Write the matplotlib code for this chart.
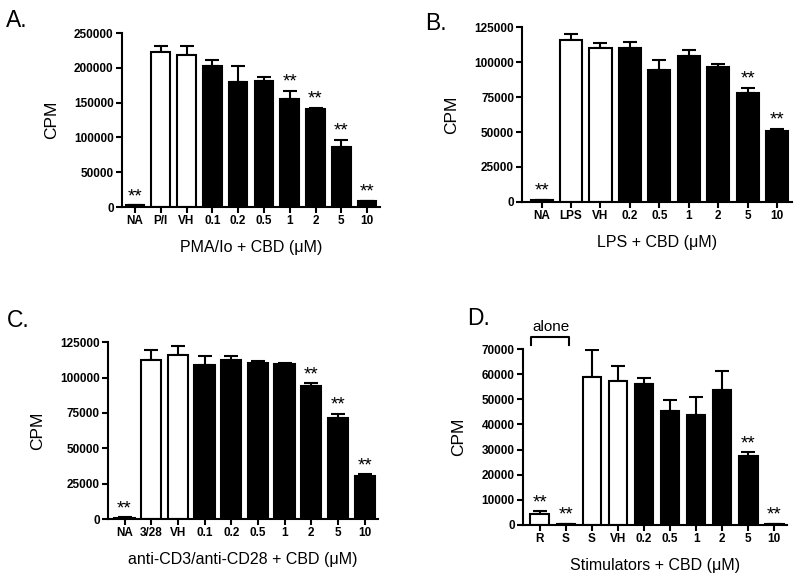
import numpy as np
import matplotlib.pyplot as plt

plt.rcParams['font.family'] = ['Liberation Sans', 'DejaVu Sans']

# panel A: PMA/Io
a_labels = ["NA", "P/I", "VH", "0.1", "0.2", "0.5", "1", "2", "5", "10"]
a_mean = [2400, 223500, 218700, 203000, 179000, 181000, 155800, 141000, 86500, 8000]
a_err = [500, 8000, 13000, 8500, 23000, 5500, 11500, 2000, 10500, 800]
a_white = [False, True, True, False, False, False, False, False, False, False]
a_stars = [True, False, False, False, False, False, True, True, True, True]

# panel B: LPS
b_labels = ["NA", "LPS", "VH", "0.2", "0.5", "1", "2", "5", "10"]
b_mean = [1200, 116000, 110000, 110300, 94200, 104600, 96500, 77600, 51000]
b_err = [300, 4000, 4000, 4500, 7100, 3800, 2400, 4000, 1400]
b_white = [False, True, True, False, False, False, False, False, False]
b_stars = [True, False, False, False, False, False, False, True, True]

# panel C: anti-CD3/anti-CD28
c_labels = ["NA", "3/28", "VH", "0.1", "0.2", "0.5", "1", "2", "5", "10"]
c_mean = [1000, 112300, 116000, 109200, 112500, 110200, 109700, 93700, 71300, 30600]
c_err = [200, 7000, 6600, 6100, 2600, 1800, 300, 2300, 3100, 1200]
c_white = [False, True, True, False, False, False, False, False, False, False]
c_stars = [True, False, False, False, False, False, False, True, True, True]

# panel D: stimulators
d_labels = ["R", "S", "S", "VH", "0.2", "0.5", "1", "2", "5", "10"]
d_mean = [4500, 400, 59100, 57500, 56200, 45500, 43900, 53600, 27600, 400]
d_err = [900, 100, 10400, 5600, 2400, 4300, 7000, 7600, 1300, 100]
d_white = [True, True, True, True, False, False, False, False, False, False]
d_stars = [True, True, False, False, False, False, False, False, True, True]


def draw(ax, labels, mean, err, white, stars, ymax, step, xlabel, xlim, width):
    x = np.arange(len(labels))
    colors = ["white" if w else "black" for w in white]
    ax.bar(x, mean, width=width, color=colors, edgecolor="black", linewidth=1.5, zorder=2)
    ax.errorbar(x, mean, yerr=[np.zeros(len(x)), err], fmt="none", ecolor="black",
                elinewidth=1.5, capsize=5, capthick=1.5, zorder=1)
    for xi, m, e, s in zip(x, mean, err, stars):
        if s:
            ax.annotate("**", (xi, m + e), xytext=(0, 0), textcoords="offset points",
                        ha="center", va="bottom", fontsize=13.5)
    ax.set_xlim(*xlim)
    ax.set_ylim(0, ymax)
    ax.set_yticks(np.arange(0, ymax + 1, step))
    ax.set_xticks(x)
    ax.set_xticklabels(labels)
    for t in ax.get_xticklabels() + ax.get_yticklabels():
        t.set_fontweight("bold")
        t.set_fontsize(8.5)
    ax.spines["top"].set_visible(False)
    ax.spines["right"].set_visible(False)
    ax.spines["left"].set_linewidth(1.5)
    ax.spines["bottom"].set_linewidth(1.5)
    ax.tick_params(width=1.5, length=4, pad=2)
    ax.set_ylabel("CPM", fontsize=12.5, labelpad=11)
    ax.set_xlabel(xlabel, fontsize=11.5, labelpad=9)


fig = plt.figure(figsize=(8, 5.8), dpi=100)

axA = fig.add_axes([0.1525, 0.643, 0.3225, 0.300])
draw(axA, a_labels, a_mean, a_err, a_white, a_stars, 250000, 50000,
     "PMA/Io + CBD (\u03bcM)", (-0.5, 9.5), 0.72)

axB = fig.add_axes([0.653, 0.652, 0.337, 0.301])
draw(axB, b_labels, b_mean, b_err, b_white, b_stars, 125000, 25000,
     "LPS + CBD (\u03bcM)", (-0.65, 8.5), 0.75)

axC = fig.add_axes([0.135, 0.105, 0.3375, 0.305])
draw(axC, c_labels, c_mean, c_err, c_white, c_stars, 125000, 25000,
     "anti-CD3/anti-CD28 + CBD (\u03bcM)", (-0.62, 9.5), 0.76)

axD = fig.add_axes([0.654, 0.095, 0.33, 0.303])
draw(axD, d_labels, d_mean, d_err, d_white, d_stars, 70000, 10000,
     "Stimulators + CBD (\u03bcM)", (-0.64, 9.5), 0.72)

# "alone" bracket over R and S
axD.plot([-0.35, -0.35, 1.12, 1.12], [71600, 74800, 74800, 71600], color="black",
         linewidth=1.5, clip_on=False)
axD.text(0.42, 76000, "alone", ha="center", va="bottom", fontsize=11)

fig.text(0.008, 0.984, "A.", fontsize=16.5, va="top")
fig.text(0.531, 0.979, "B.", fontsize=16.5, va="top")
fig.text(0.008, 0.468, "C.", fontsize=16.5, va="top")
fig.text(0.584, 0.471, "D.", fontsize=16.5, va="top")

fig.savefig("out.png", dpi=100)
